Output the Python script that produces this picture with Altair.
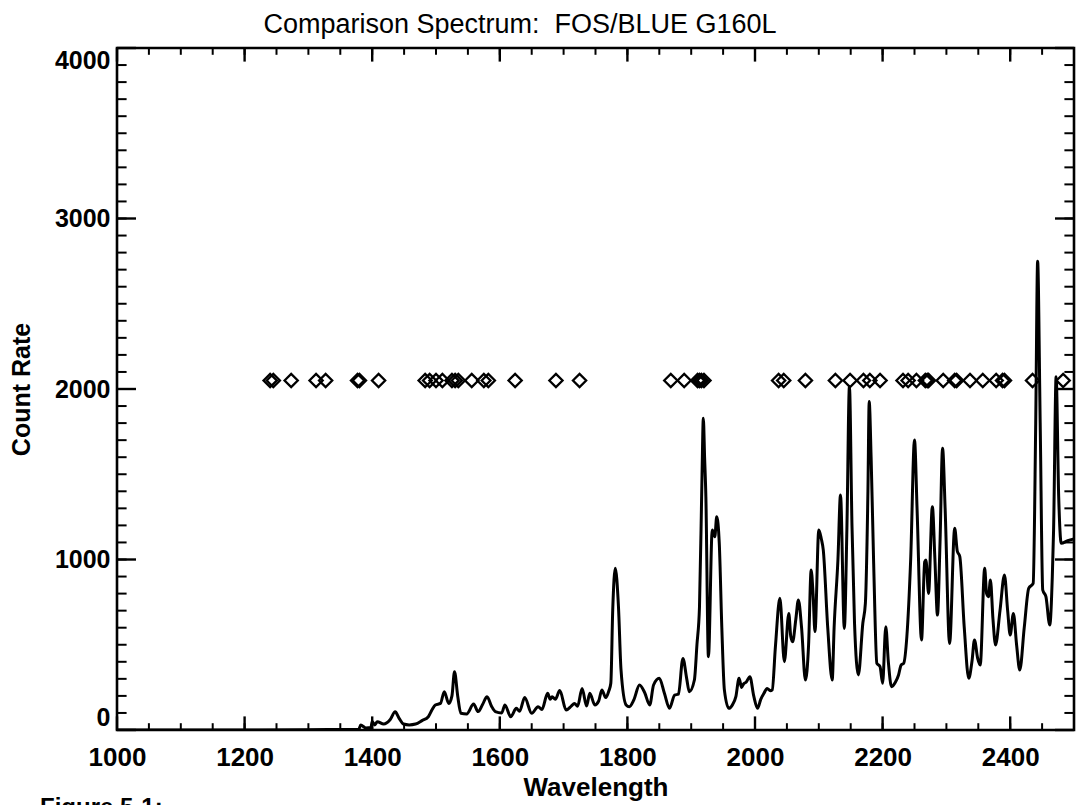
import altair as alt
import pandas as pd

# ---- spectrum ----
wavelength = [
    1000, 1100, 1200, 1300, 1350, 1379, 1382, 1390, 1398, 1400, 1404, 1408, 1418, 1428, 1436,
    1442, 1449, 1458, 1468, 1478, 1488, 1494, 1499, 1507, 1513, 1520, 1525, 1529, 1534, 1539,
    1548, 1559, 1566, 1573, 1580, 1587, 1593, 1603, 1608, 1617, 1626, 1631, 1639, 1650, 1660,
    1666, 1675, 1679, 1682, 1687, 1694, 1704, 1712, 1717, 1722, 1729, 1736, 1741, 1749, 1755,
    1760, 1766, 1771, 1774, 1777, 1781, 1786, 1790, 1798, 1803, 1810, 1819, 1827, 1835, 1841,
    1850, 1858, 1866, 1874, 1880, 1887, 1893, 1897, 1905, 1909, 1913, 1917, 1919, 1921, 1923,
    1927, 1933, 1937, 1940, 1944, 1948, 1952, 1959, 1965, 1970, 1975, 1979, 1982, 1986, 1992,
    1998, 2004, 2009, 2014, 2019, 2024, 2027, 2032, 2039, 2046, 2053, 2056, 2059, 2064, 2068,
    2073, 2079, 2084, 2088, 2091, 2094, 2100, 2104, 2107, 2114, 2121, 2124, 2130, 2134, 2140,
    2144, 2148, 2152, 2156, 2162, 2169, 2173, 2177, 2179, 2182, 2186, 2191, 2196, 2200, 2205,
    2209, 2214, 2220, 2225, 2229, 2233, 2238, 2244, 2250, 2254, 2261, 2266, 2268, 2272, 2278,
    2282, 2286, 2290, 2294, 2298, 2305, 2313, 2317, 2321, 2328, 2335, 2340, 2344, 2349, 2353,
    2360, 2363, 2366, 2369, 2373, 2377, 2384, 2391, 2396, 2400, 2405, 2410, 2415, 2422, 2429,
    2436, 2440, 2443, 2447, 2451, 2456, 2462, 2466, 2468, 2472, 2476, 2480, 2490, 2500,
]
count_rate = [
    0, 0, 0, 2, 3, 5, 29, 12, 15, 50, 30, 49, 35, 60, 107,
    70, 35, 30, 35, 55, 78, 120, 147, 156, 225, 156, 200, 342, 200, 98,
    94, 152, 108, 150, 195, 140, 108, 100, 147, 78, 127, 110, 190, 98, 137,
    120, 215, 180, 195, 180, 231, 117, 140, 156, 140, 244, 141, 215, 147, 170,
    235, 190, 230, 274, 704, 948, 723, 352, 147, 137, 176, 264, 220, 147, 264,
    303, 215, 127, 205, 210, 420, 300, 225, 293, 500, 723, 1500, 1828, 1600, 1368,
    430, 1173, 1134, 1251, 1095, 600, 235, 127, 150, 196, 303, 250, 270, 280, 313,
    200, 127, 180, 215, 244, 230, 235, 489, 772, 401, 684, 550, 518, 650, 762,
    600, 293, 500, 938, 800, 577, 1173, 1120, 1056, 600, 293, 600, 1000, 1378, 596,
    1173, 2014, 1200, 626, 323, 626, 743, 1400, 1926, 1600, 977, 391, 372, 274, 606,
    400, 254, 280, 323, 381, 391, 547, 1000, 1701, 1300, 528, 987, 997, 801, 1310,
    1000, 674, 1100, 1652, 1300, 508, 1183, 1050, 1017, 600, 303, 400, 528, 420, 381,
    948, 800, 782, 880, 650, 499, 700, 909, 700, 557, 684, 500, 352, 600, 831,
    860, 1800, 2750, 1800, 821, 782, 616, 900, 1173, 2072, 1368, 1095, 1110, 1120,
]

# ---- comparison line positions (diamonds) ----
line_wavelengths = [
    1240, 1245, 1273, 1312, 1327, 1377, 1380, 1410,
    1483, 1490, 1500, 1510, 1525, 1530, 1535, 1556, 1575, 1582, 1624, 1688, 1725,
    1868, 1889, 1910, 1913, 1916, 1920,
    2037, 2045, 2079,
    2126, 2149, 2170, 2180, 2196,
    2232, 2240, 2253, 2267, 2270, 2272, 2295, 2313, 2316, 2337, 2357, 2378, 2388, 2391,
    2435, 2483,
]
marker_level = 2050

x_tick_labels = [1000, 1200, 1400, 1600, 1800, 2000, 2200, 2400]
y_tick_labels = [0, 1000, 2000, 3000, 4000]
x_minor_ticks = list(range(1000, 2501, 50))
y_minor_ticks = list(range(0, 4001, 100))

W, H = 957, 682
FONT = "Liberation Sans"

xscale = alt.Scale(domain=[1000, 2500], nice=False, zero=False)
yscale = alt.Scale(domain=[0, 4000], nice=False, zero=False)

x_axis = alt.Axis(values=x_tick_labels, ticks=False, domain=False, grid=False,
                  format="d", labelFlush=False, labelOverlap=False,
                  labelFont=FONT, labelFontSize=26, labelFontWeight="bold",
                  labelColor="black", labelPadding=14,
                  title="Wavelength", titleFont=FONT, titleFontSize=26,
                  titleFontWeight="bold", titleColor="black",
                  titleX=W / 2, titleY=65, titleBaseline="alphabetic")
y_axis = alt.Axis(values=y_tick_labels, ticks=False, domain=False, grid=False,
                  format="d", labelFlush=True, labelFlushOffset=0, labelOverlap=False,
                  labelFont=FONT, labelFontSize=25, labelFontWeight="bold",
                  labelColor="black", labelPadding=7,
                  title="Count Rate", titleFont=FONT, titleFontSize=25,
                  titleFontWeight="bold", titleColor="black",
                  titleX=-88, titleY=H / 2, titleAngle=270,
                  titleBaseline="alphabetic")

X = alt.X("Wavelength:Q", scale=xscale, axis=x_axis)
Y = alt.Y("Count Rate:Q", scale=yscale, axis=y_axis)

spec_df = pd.DataFrame({"Wavelength": wavelength, "Count Rate": count_rate})
mark_df = pd.DataFrame({"Wavelength": line_wavelengths,
                        "Count Rate": [marker_level] * len(line_wavelengths)})

spectrum = alt.Chart(spec_df).mark_line(
    color="black", strokeWidth=3, clip=True, interpolate="monotone"
).encode(x=X, y=Y)

diamonds = alt.Chart(mark_df).mark_point(
    shape="diamond", filled=False, size=175, strokeWidth=2.3, color="black", opacity=1
).encode(x=X, y=Y)


def xticks(values, y0, y1, sw):
    return alt.Chart(pd.DataFrame({"Wavelength": values})).mark_rule(
        color="black", strokeWidth=sw).encode(x=X, y=alt.value(y0), y2=alt.value(y1))


def yticks(values, x0, x1, sw):
    return alt.Chart(pd.DataFrame({"Count Rate": values})).mark_rule(
        color="black", strokeWidth=sw).encode(y=Y, x=alt.value(x0), x2=alt.value(x1))


XMAJ, XMIN = 13.6, 6.8
YMAJ, YMIN = 19.0, 9.6

tick_layers = [
    xticks(x_minor_ticks, H, H - XMIN, 2),
    xticks(x_tick_labels, H, H - XMAJ, 2.4),
    xticks(x_minor_ticks, 0, XMIN, 2),
    xticks(x_tick_labels, 0, XMAJ, 2.4),
    yticks(y_minor_ticks, 0, YMIN, 2),
    yticks(y_tick_labels, 0, YMAJ, 2.4),
    yticks(y_minor_ticks, W, W - YMIN, 2),
    yticks(y_tick_labels, W, W - YMAJ, 2.4),
]

title_text = alt.Chart(pd.DataFrame({"title": ["Comparison Spectrum:\u00a0 FOS/BLUE G160L"]})).mark_text(
    font=FONT, fontSize=27, color="black", align="center", baseline="alphabetic"
).encode(text="title:N", x=alt.value(403), y=alt.value(-15))

caption = alt.Chart(pd.DataFrame({"caption": ["Figure 5-1:"]})).mark_text(
    font=FONT, fontSize=24, fontWeight="bold", color="black",
    align="left", baseline="top"
).encode(text="caption:N", x=alt.value(-77), y=alt.value(748))

chart = alt.layer(spectrum, diamonds, *tick_layers, title_text, caption).properties(
    width=W, height=H,
    padding={"left": 117, "top": 48, "right": 3, "bottom": 75},
    autosize=alt.AutoSizeParams(type="none"),
    background="white",
).configure_view(stroke="black", strokeWidth=2.6)

chart.save("out.html", embed_options={"renderer": "svg", "actions": False})
